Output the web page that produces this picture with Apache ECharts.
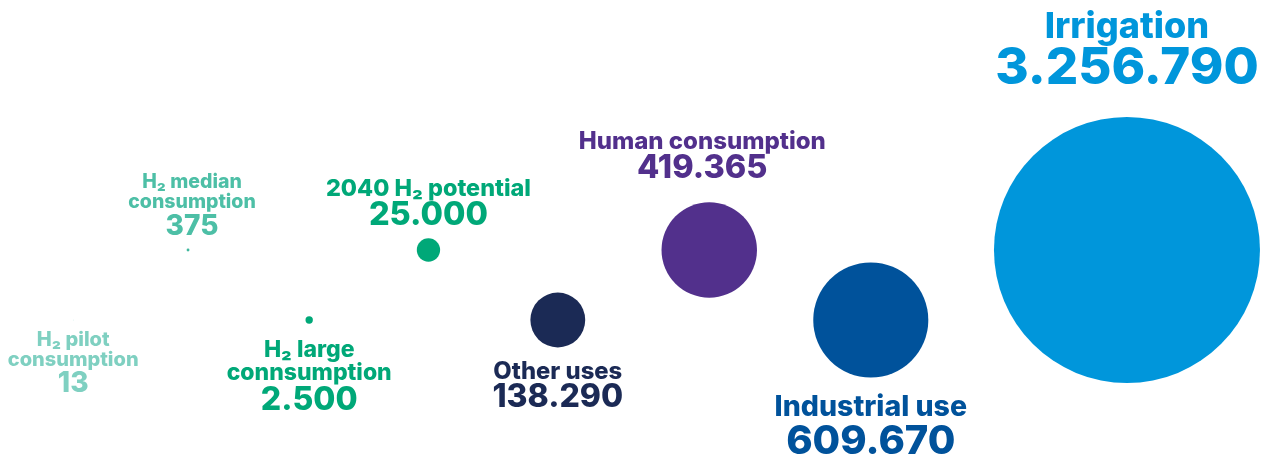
<!DOCTYPE html>
<html>
<head>
<meta charset="utf-8">
<script src="https://cdn.jsdelivr.net/npm/echarts@6/dist/echarts.min.js"></script>
<style>
  html, body { margin: 0; padding: 0; background: #ffffff; }
  #chart { width: 1262px; height: 460px; }
</style>
</head>
<body>
<div id="chart"></div>
<script>
// Water use by category (m³), smallest to largest
const categories = [
  'H₂ pilot\nconsumption',
  'H₂ median\nconsumption',
  'H₂ large\nconnsumption',
  '2040 H₂ potential',
  'Other uses',
  'Human consumption',
  'Industrial use',
  'Irrigation'
];
const values = [13, 375, 2500, 25000, 138290, 419365, 609670, 3256790];

// Layout: horizontal slot (percent of width) and row of each bubble
const slotX = [5.8, 14.9, 24.5, 33.95, 44.2, 56.2, 69.0, 89.3];
const slotRow = ['lower', 'upper', 'lower', 'upper', 'lower', 'upper', 'lower', 'upper'];

// Styles
const bubbleColors = ['#5cc2ae', '#3fb79d', '#00a878', '#00a878', '#1b2a55', '#52308c', '#00529b', '#0096db'];
const labelColors  = ['#7fd0c1', '#4dbfa6', '#00a878', '#00a878', '#1b2a55', '#52308c', '#00529b', '#0096db'];
// [nameSize, nameLineHeight, valueSize, valueLineHeight, distance, offsetX]
const labelSpecs = [
  [20, 20, 28, 27, 10, 0],
  [19.5, 20, 28, 28, 8, 4],
  [23, 23, 32, 32, 15, 0],
  [23.4, 22, 32.5, 30, 8, 0],
  [23.8, 22, 32, 30, 13, 0],
  [24, 20, 32.5, 32, 18, -7],
  [28.5, 30, 40, 38, 15, 0],
  [36, 33, 51, 50, 23, 0]
];

const FONT = 'Inter, "Open Sans", sans-serif';
const maxValue = Math.max(...values);
const maxDiameter = 266;

function formatValue(v) {
  return String(v).replace(/\B(?=(\d{3})+(?!\d))/g, '.');
}

const seriesData = values.map((v, i) => {
  const s = labelSpecs[i];
  const upper = slotRow[i] === 'upper';
  return {
    name: categories[i],
    value: [slotX[i], slotRow[i], v],
    itemStyle: { color: bubbleColors[i], opacity: 1 },
    label: {
      show: true,
      position: upper ? 'top' : 'bottom',
      distance: s[4],
      offset: [s[5], 0],
      align: 'center',
      formatter: () => '{n|' + categories[i] + '}\n{v|' + formatValue(v) + '}',
      rich: {
        n: { fontFamily: FONT, fontWeight: 800, fontSize: s[0], lineHeight: s[1], color: labelColors[i], align: 'center' },
        v: { fontFamily: FONT, fontWeight: 800, fontSize: s[2], lineHeight: s[3], color: labelColors[i], align: 'center' }
      }
    }
  };
});

const chart = echarts.init(document.getElementById('chart'), null, { renderer: 'canvas' });
chart.setOption({
  animation: false,
  backgroundColor: '#ffffff',
  grid: { left: 0, right: 0, top: 215, bottom: 105 },
  xAxis: { type: 'value', min: 0, max: 100, show: false },
  yAxis: { type: 'category', data: ['upper', 'lower'], inverse: true, show: false },
  series: [{
    type: 'scatter',
    data: seriesData,
    symbol: 'circle',
    symbolSize: d => maxDiameter * Math.sqrt(d[2] / maxValue),
    itemStyle: { opacity: 1 },
    emphasis: { disabled: true }
  }]
});
</script>
</body>
</html>
